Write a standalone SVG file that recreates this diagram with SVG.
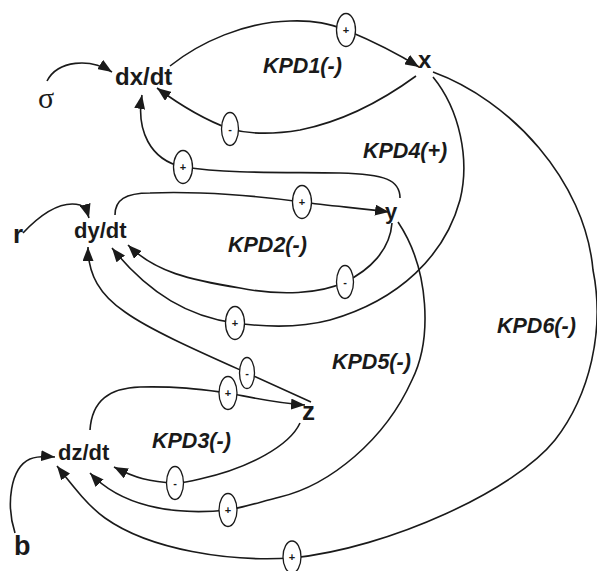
<svg xmlns="http://www.w3.org/2000/svg" width="597" height="571" viewBox="0 0 597 571">
<style>
.c{fill:none;stroke:#1a1a1a;stroke-width:1.6;marker-end:url(#ah)}
.n{font-family:"Liberation Sans",Arial,sans-serif;font-weight:bold;fill:#1a1a1a}
.k{font-family:"Liberation Sans",Arial,sans-serif;font-weight:bold;font-style:italic;font-size:21.5px;fill:#1a1a1a}
.s ellipse{fill:#fff;stroke:#1a1a1a;stroke-width:1.3}
.s text{font-family:"Liberation Sans",Arial,sans-serif;font-size:11px;font-weight:bold;text-anchor:middle;fill:#1a1a1a}
</style>
<defs>
<marker id="ah" markerUnits="userSpaceOnUse" markerWidth="15" markerHeight="11" refX="14" refY="5.5" orient="auto">
<path d="M0,0 L14,5.5 L0,11 z" fill="#1a1a1a"/>
</marker>
</defs>
<rect width="597" height="571" fill="#fff"/>
<g id="connectors">
<path class="c" d="M47,81 C58,60 90,58 112,72"/>
<path class="c" d="M170,66 C200,42 245,22 290,21 C315,20 330,24 346,30 C370,40 395,52 419,67"/>
<path class="c" d="M416,76 C390,95 350,120 300,130 C270,135 245,133 230,129 C205,120 180,105 157,88"/>
<path class="c" d="M400,198 C400,180 385,174 340,173 C290,172 230,174 183,167 C150,160 136,130 142,95"/>
<path class="c" d="M115,215 C115,200 125,193 150,193 C200,191 260,196 302,202 C330,206 360,208 389,212"/>
<path class="c" d="M392,223 C390,250 370,270 345,282 C320,294 280,296 240,288 C190,280 155,272 128,245"/>
<path class="c" d="M433,77 C460,110 470,160 460,200 C445,255 400,300 330,320 C300,328 265,327 235,323 C190,317 150,295 112,248"/>
<path class="c" d="M311,402 L247,373 C200,352 150,330 125,312 C100,295 88,275 88,247"/>
<path class="c" d="M90,430 C92,400 110,388 140,387 C180,386 205,390 228,393 C250,397 275,403 305,405"/>
<path class="c" d="M300,423 C290,445 250,468 200,479 C188,482 180,483 175,483 C150,482 135,478 114,467"/>
<path class="c" d="M398,222 C430,270 432,340 412,380 C385,440 330,485 280,497 C260,502 245,507 228,510 C170,516 120,505 90,473"/>
<path class="c" d="M433,72 C510,100 585,180 593,270 C605,330 590,395 555,440 C515,490 390,548 292,558 C230,562 150,550 105,518 C88,506 72,485 57,466"/>
<path class="c" d="M23,233 C40,215 60,200 80,205 C85,207 87,211 89,218"/>
<path class="c" d="M15,533 C6,505 10,468 30,459 C38,456 45,456 55,457"/>
</g>
<g id="signs" class="s">
<g id="s1"><ellipse cx="346" cy="30" rx="9.5" ry="16.5"/><text x="346" y="34">+</text></g>
<g id="s2"><ellipse cx="230" cy="129" rx="8.5" ry="16.5"/><text x="230" y="133">-</text></g>
<g id="s3"><ellipse cx="183" cy="167" rx="9.5" ry="16.5"/><text x="183" y="171">+</text></g>
<g id="s4"><ellipse cx="302" cy="202" rx="9.5" ry="16.5"/><text x="302" y="206">+</text></g>
<g id="s5"><ellipse cx="345" cy="282" rx="8.5" ry="16.5"/><text x="345" y="286">-</text></g>
<g id="s6"><ellipse cx="235" cy="323" rx="9.5" ry="16.5"/><text x="235" y="327">+</text></g>
<g id="s7"><ellipse cx="247" cy="373" rx="7.5" ry="15.5"/><text x="247" y="377">-</text></g>
<g id="s8"><ellipse cx="228" cy="393" rx="9" ry="16.5"/><text x="228" y="397">+</text></g>
<g id="s9"><ellipse cx="175" cy="483" rx="8.5" ry="16.5"/><text x="175" y="487">-</text></g>
<g id="s10"><ellipse cx="228" cy="510" rx="9" ry="16.5"/><text x="228" y="514">+</text></g>
<g id="s11"><ellipse cx="292" cy="557" rx="9" ry="16"/><text x="292" y="561">+</text></g>
</g>
<g id="sigma"><text x="38" y="108" style="font-family:'Liberation Serif','Times New Roman',serif;font-size:30px;fill:#1a1a1a">σ</text></g>
<g id="dxdt"><text class="n" x="115" y="85" font-size="24">dx/dt</text></g>
<g id="x"><text class="n" x="418" y="68" font-size="24">x</text></g>
<g id="r"><text class="n" x="13" y="243" font-size="26">r</text></g>
<g id="dydt"><text class="n" x="74" y="238" font-size="22">dy/dt</text></g>
<g id="y"><text class="n" x="385" y="219" font-size="22">y</text></g>
<g id="z"><text class="n" x="302" y="420" font-size="26">z</text></g>
<g id="dzdt"><text class="n" x="58" y="460" font-size="22">dz/dt</text></g>
<g id="b"><text class="n" x="14" y="555" font-size="27">b</text></g>
<g id="labels">
<text class="k" x="263" y="73">KPD1(-)</text>
<text class="k" x="363" y="158">KPD4(+)</text>
<text class="k" x="228" y="252">KPD2(-)</text>
<text class="k" x="497" y="333">KPD6(-)</text>
<text class="k" x="332" y="369">KPD5(-)</text>
<text class="k" x="152" y="448">KPD3(-)</text>
</g>
</svg>
